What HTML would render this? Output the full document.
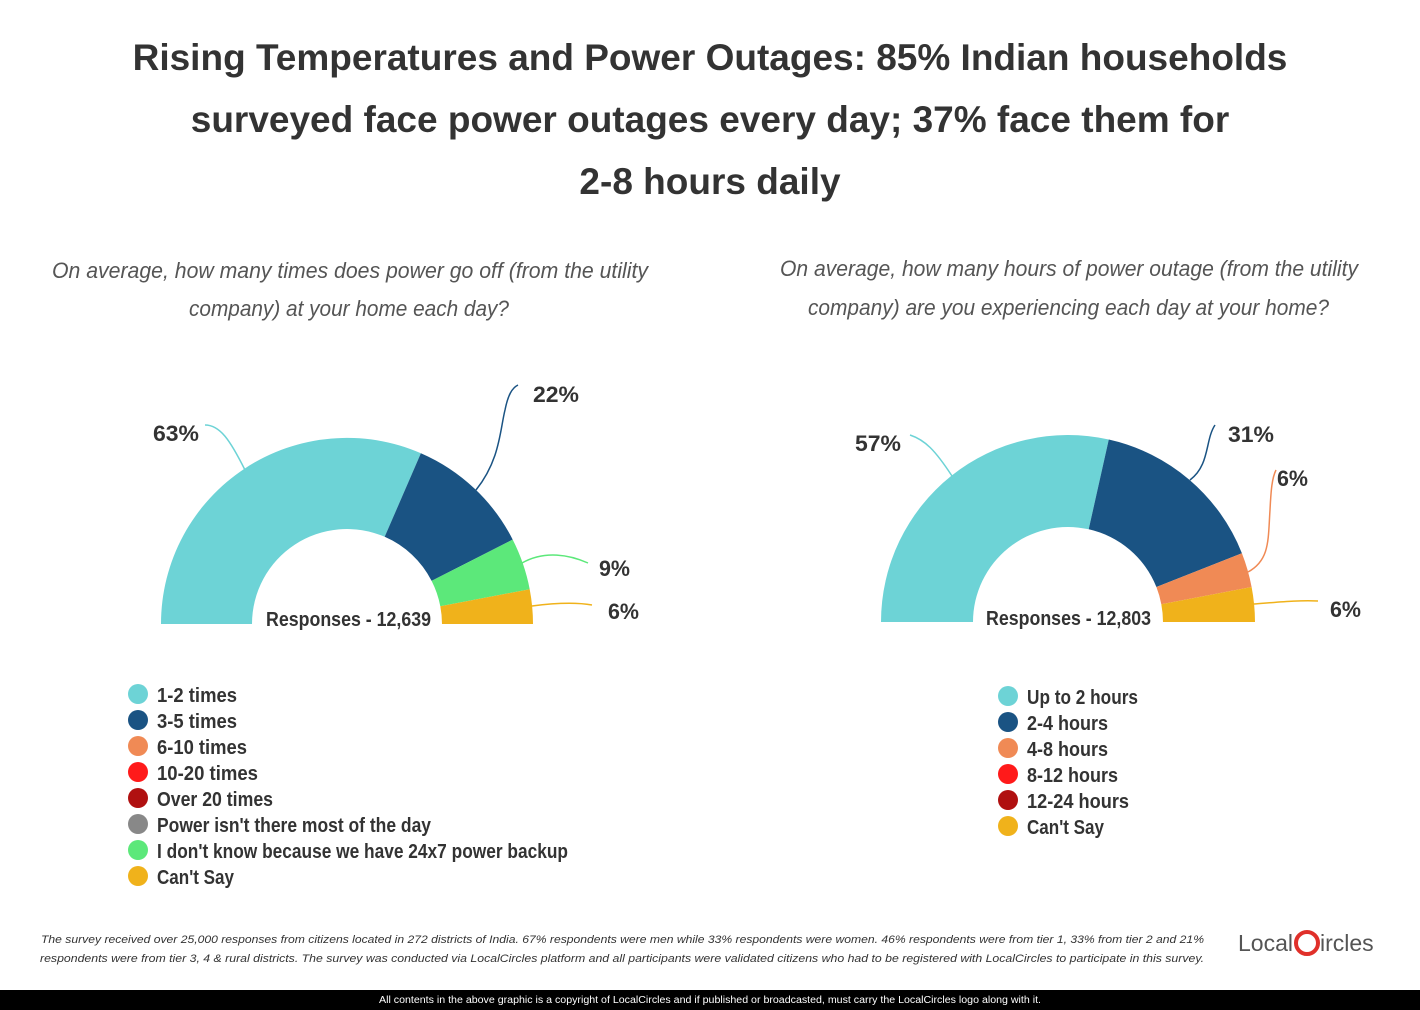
<!DOCTYPE html>
<html><head><meta charset="utf-8"><style>
body{margin:0;background:#fff;}
svg{display:block}
</style></head><body>
<svg width="1420" height="1010" xmlns="http://www.w3.org/2000/svg" font-family="Liberation Sans, sans-serif">
<rect width="1420" height="1010" fill="#fff"/>
<g font-weight="bold" font-size="37" fill="#333" text-anchor="middle">
<text x="710" y="70">Rising Temperatures and Power Outages: 85% Indian households</text>
<text x="710" y="132">surveyed face power outages every day; 37% face them for</text>
<text x="710" y="194">2-8 hours daily</text>
</g>
<g font-style="italic" font-size="22" fill="#555" lengthAdjust="spacingAndGlyphs">
<text x="52" y="278" textLength="596" lengthAdjust="spacingAndGlyphs">On average, how many times does power go off (from the utility</text>
<text x="189" y="316" textLength="320" lengthAdjust="spacingAndGlyphs">company) at your home each day?</text>
<text x="780" y="276" textLength="578" lengthAdjust="spacingAndGlyphs">On average, how many hours of power outage (from the utility</text>
<text x="808" y="315" textLength="521" lengthAdjust="spacingAndGlyphs">company) are you experiencing each day at your home?</text>
</g>
<!-- left donut -->
<path d="M161,624 A186,186 0 0 1 420.9,453.2 L384.7,536.8 A95,95 0 0 0 252,624 Z" fill="#6DD3D6"/>
<path d="M420.9,453.2 A186,186 0 0 1 512.7,539.6 L431.6,580.9 A95,95 0 0 0 384.7,536.8 Z" fill="#1A5383"/>
<path d="M512.7,539.6 A186,186 0 0 1 529.7,589.2 L440.3,606.2 A95,95 0 0 0 431.6,580.9 Z" fill="#5CE87A"/>
<path d="M529.7,589.2 A186,186 0 0 1 533,624 L442,624 A95,95 0 0 0 440.3,606.2 Z" fill="#F0B21B"/>
<!-- right donut -->
<path d="M881,622 A187,187 0 0 1 1108.8,439.5 L1088.7,529.3 A95,95 0 0 0 973,622 Z" fill="#6DD3D6"/>
<path d="M1108.8,439.5 A187,187 0 0 1 1241.9,553.2 L1156.4,587 A95,95 0 0 0 1088.7,529.3 Z" fill="#1A5383"/>
<path d="M1241.9,553.2 A187,187 0 0 1 1251.6,587 L1161.3,604.2 A95,95 0 0 0 1156.4,587 Z" fill="#F08A55"/>
<path d="M1251.6,587 A187,187 0 0 1 1255,622 L1163,622 A95,95 0 0 0 1161.3,604.2 Z" fill="#F0B21B"/>
<!-- leaders -->
<g fill="none" stroke-width="1.5">
<path d="M245,470 C230,440 220,425 205,425" stroke="#6DD3D6"/>
<path d="M476,490 C500,460 500,430 505,410 C508,395 512,388 518,385" stroke="#1A5383"/>
<path d="M522,563 C545,550 570,555 588,563" stroke="#5CE87A"/>
<path d="M532,606 C555,603 575,602 592,605" stroke="#F0B21B"/>
<path d="M952,476 C935,450 925,440 910,435" stroke="#6DD3D6"/>
<path d="M1190,480 C1210,465 1205,440 1215,425" stroke="#1A5383"/>
<path d="M1248,572 C1270,560 1268,540 1270,510 C1271,490 1272,478 1276,470" stroke="#F08A55"/>
<path d="M1254,604 C1280,602 1300,600 1318,601" stroke="#F0B21B"/>
</g>
<g font-weight="bold" font-size="22" fill="#333">
<text x="153" y="441" textLength="46" lengthAdjust="spacingAndGlyphs">63%</text><text x="533" y="402" textLength="46" lengthAdjust="spacingAndGlyphs">22%</text>
<text x="599" y="576" textLength="31" lengthAdjust="spacingAndGlyphs">9%</text><text x="608" y="619" textLength="31" lengthAdjust="spacingAndGlyphs">6%</text>
<text x="855" y="451" textLength="46" lengthAdjust="spacingAndGlyphs">57%</text><text x="1228" y="442" textLength="46" lengthAdjust="spacingAndGlyphs">31%</text>
<text x="1277" y="486" textLength="31" lengthAdjust="spacingAndGlyphs">6%</text><text x="1330" y="617" textLength="31" lengthAdjust="spacingAndGlyphs">6%</text>
<text x="266" y="626" font-size="20" textLength="165" lengthAdjust="spacingAndGlyphs">Responses - 12,639</text>
<text x="986" y="625" font-size="20" textLength="165" lengthAdjust="spacingAndGlyphs">Responses - 12,803</text>
</g>
<g font-weight="bold" font-size="20" fill="#333">
<circle cx="138" cy="694" r="10" fill="#6DD3D6"/><text x="157" y="702" textLength="80" lengthAdjust="spacingAndGlyphs">1-2 times</text>
<circle cx="138" cy="720" r="10" fill="#1A5383"/><text x="157" y="728" textLength="80" lengthAdjust="spacingAndGlyphs">3-5 times</text>
<circle cx="138" cy="746" r="10" fill="#F08A55"/><text x="157" y="754" textLength="90" lengthAdjust="spacingAndGlyphs">6-10 times</text>
<circle cx="138" cy="772" r="10" fill="#FF1A1A"/><text x="157" y="780" textLength="101" lengthAdjust="spacingAndGlyphs">10-20 times</text>
<circle cx="138" cy="798" r="10" fill="#B01010"/><text x="157" y="806" textLength="116" lengthAdjust="spacingAndGlyphs">Over 20 times</text>
<circle cx="138" cy="824" r="10" fill="#888"/><text x="157" y="832" textLength="274" lengthAdjust="spacingAndGlyphs">Power isn't there most of the day</text>
<circle cx="138" cy="850" r="10" fill="#5CE87A"/><text x="157" y="858" textLength="411" lengthAdjust="spacingAndGlyphs">I don't know because we have 24x7 power backup</text>
<circle cx="138" cy="876" r="10" fill="#F0B21B"/><text x="157" y="884" textLength="77" lengthAdjust="spacingAndGlyphs">Can't Say</text>
<circle cx="1008" cy="696" r="10" fill="#6DD3D6"/><text x="1027" y="704" textLength="111" lengthAdjust="spacingAndGlyphs">Up to 2 hours</text>
<circle cx="1008" cy="722" r="10" fill="#1A5383"/><text x="1027" y="730" textLength="81" lengthAdjust="spacingAndGlyphs">2-4 hours</text>
<circle cx="1008" cy="748" r="10" fill="#F08A55"/><text x="1027" y="756" textLength="81" lengthAdjust="spacingAndGlyphs">4-8 hours</text>
<circle cx="1008" cy="774" r="10" fill="#FF1A1A"/><text x="1027" y="782" textLength="91" lengthAdjust="spacingAndGlyphs">8-12 hours</text>
<circle cx="1008" cy="800" r="10" fill="#B01010"/><text x="1027" y="808" textLength="102" lengthAdjust="spacingAndGlyphs">12-24 hours</text>
<circle cx="1008" cy="826" r="10" fill="#F0B21B"/><text x="1027" y="834" textLength="77" lengthAdjust="spacingAndGlyphs">Can't Say</text>
</g>
<g font-style="italic" font-size="11" fill="#333">
<text x="41" y="943" textLength="1163" lengthAdjust="spacingAndGlyphs">The survey received over 25,000 responses from citizens located in 272 districts of India. 67% respondents were men while 33% respondents were women. 46% respondents were from tier 1, 33% from tier 2 and 21%</text>
<text x="40" y="962" textLength="1164" lengthAdjust="spacingAndGlyphs">respondents were from tier 3, 4 &amp; rural districts. The survey was conducted via LocalCircles platform and all participants were validated citizens who had to be registered with LocalCircles to participate in this survey.</text>
</g>
<text x="1238" y="951" font-size="23" fill="#555">Local</text>
<circle cx="1307" cy="943" r="11" fill="none" stroke="#E0302A" stroke-width="4"/>
<text x="1320" y="951" font-size="23" fill="#555">ircles</text>
<rect x="0" y="990" width="1420" height="20" fill="#000"/>
<text x="379" y="1003" font-size="10" fill="#fff" textLength="662" lengthAdjust="spacingAndGlyphs">All contents in the above graphic is a copyright of LocalCircles and if published or broadcasted, must carry the LocalCircles logo along with it.</text>
</svg>
</body></html>
